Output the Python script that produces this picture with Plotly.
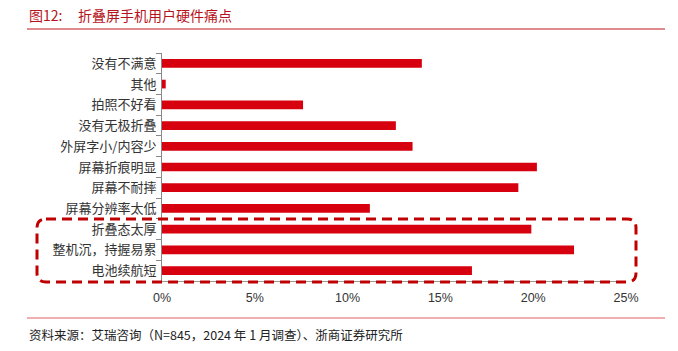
import plotly.graph_objects as go

categories = ["没有不满意", "其他", "拍照不好看", "没有无极折叠", "外屏字小/内容少",
              "屏幕折痕明显", "屏幕不耐摔", "屏幕分辨率太低", "折叠态太厚",
              "整机沉，持握易累", "电池续航短"]
values = [14.0, 0.2, 7.6, 12.6, 13.5, 20.2, 19.2, 11.2, 19.9, 22.2, 16.7]
x_ticks = [0, 5, 10, 15, 20, 25]
x_tick_labels = ["0%", "5%", "10%", "15%", "20%", "25%"]

W, H = 678, 351
L, R, T, B = 162, 52, 53, 70
pw, ph = W - L - R, H - T - B

def px(x):
    return (x - L) / pw

def py(y):
    return (H - B - y) / ph

fig = go.Figure(go.Bar(
    y=categories, x=values, orientation="h",
    marker=dict(color="#D7000F", line=dict(width=0)),
    width=0.42,
))

# rounded dashed box (pixel geometry converted to paper coords)
x0, x1, y0, y1, r = 37, 636, 219, 282, 9
def P(x, y):
    return f"{px(x):.5f},{py(y):.5f}"
path = (f"M{P(x0 + r, y0)} L{P(x1 - r, y0)} Q{P(x1, y0)} {P(x1, y0 + r)} "
        f"L{P(x1, y1 - r)} Q{P(x1, y1)} {P(x1 - r, y1)} "
        f"L{P(x0 + r, y1)} Q{P(x0, y1)} {P(x0, y1 - r)} "
        f"L{P(x0, y0 + r)} Q{P(x0, y0)} {P(x0 + r, y0)} Z")

shapes = [
    dict(type="path", xref="paper", yref="paper", path=path,
         line=dict(color="#C00000", width=3, dash="10px,6px")),
    dict(type="line", xref="paper", yref="paper",
         x0=px(27), x1=px(665), y0=py(29), y1=py(29),
         line=dict(color="#C0161E", width=1)),
    dict(type="line", xref="paper", yref="paper",
         x0=px(27), x1=px(665), y0=py(318), y1=py(318),
         line=dict(color="#E06060", width=1)),
]

title_font = dict(family="Noto Sans CJK SC", size=14, color="#B5121B")
annotations = [
    dict(text="图12:", xref="paper", yref="paper",
         x=px(27), y=py(15), xanchor="left", yanchor="middle", showarrow=False,
         font=title_font),
    dict(text="折叠屏手机用户硬件痛点", xref="paper", yref="paper",
         x=px(76), y=py(15), xanchor="left", yanchor="middle", showarrow=False,
         font=title_font),
    dict(text="资料来源：艾瑞咨询（N=845，2024 年 1 月调查）、浙商证券研究所",
         xref="paper", yref="paper",
         x=px(27), y=py(334), xanchor="left", yanchor="middle", showarrow=False,
         font=dict(family="Noto Sans CJK SC", size=12.5, color="#222222")),
]

fig.update_layout(
    width=W, height=H,
    margin=dict(l=L, r=R, t=T, b=B, pad=0),
    paper_bgcolor="white", plot_bgcolor="white",
    showlegend=False,
    shapes=shapes, annotations=annotations,
    xaxis=dict(range=[0, 25], tickmode="array", tickvals=x_ticks,
               ticktext=x_tick_labels, ticklabelstandoff=5,
               showgrid=False, zeroline=False, showline=True,
               linecolor="#999999", linewidth=1, ticks="",
               tickfont=dict(family="Arial", size=12.5, color="#333333")),
    yaxis=dict(autorange="reversed", showgrid=False, zeroline=False,
               showline=True, linecolor="#888888", linewidth=1,
               ticks="outside", ticklen=5, tickcolor="#888888",
               tickson="boundaries", ticklabelstandoff=2,
               tickfont=dict(family="Noto Sans CJK SC", size=13, color="#333333")),
)

fig.write_html("out.html")
